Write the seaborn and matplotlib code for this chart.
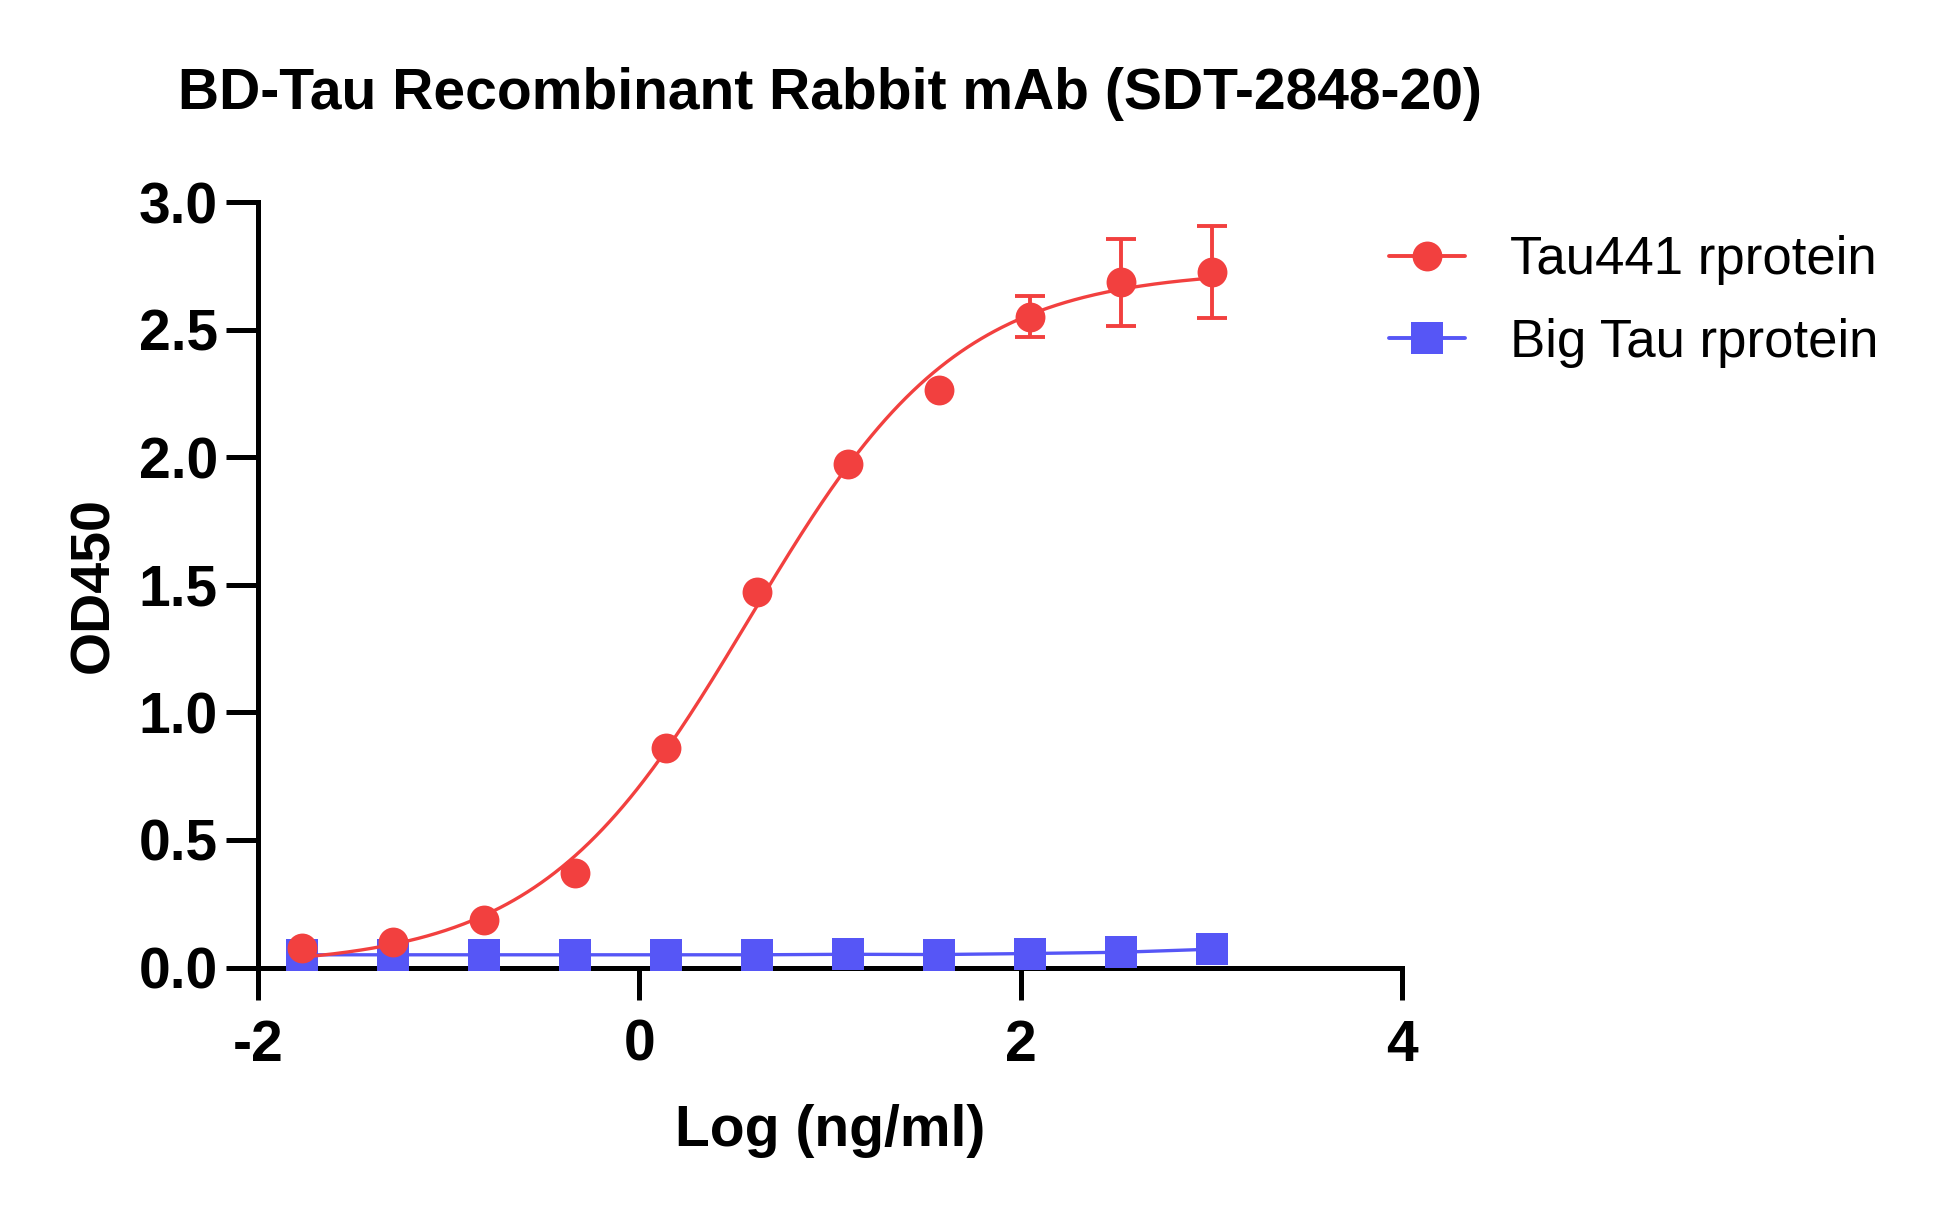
import numpy as np
import pandas as pd
import matplotlib
matplotlib.use("Agg")
import matplotlib.pyplot as plt
from matplotlib.lines import Line2D
import seaborn as sns

# ---------------- data ----------------
log_conc = [-1.771, -1.294, -0.817, -0.340, 0.137, 0.614, 1.091, 1.569, 2.046, 2.523, 3.000]
tau441_od = [0.078, 0.100, 0.185, 0.370, 0.862, 1.470, 1.975, 2.265, 2.550, 2.685, 2.725]
tau441_err = [0.0, 0.0, 0.0, 0.0, 0.0, 0.0, 0.0, 0.0, 0.080, 0.170, 0.180]
bigtau_od = [0.050, 0.050, 0.050, 0.050, 0.050, 0.050, 0.052, 0.051, 0.055, 0.060, 0.072]
series_names = ["Tau441 rprotein", "Big Tau rprotein"]
title_text = "BD-Tau Recombinant Rabbit mAb (SDT-2848-20)"
x_label = "Log (ng/ml)"
y_label = "OD450"
x_ticks = [-2, 0, 2, 4]
y_ticks = [0.0, 0.5, 1.0, 1.5, 2.0, 2.5, 3.0]

RED = "#F2403F"
BLUE = "#5656F6"


# ---------------- 4PL fit (least squares, numpy only) ----------------
def four_pl(x, p):
    bottom, top, logec50, hill = p
    return bottom + (top - bottom) / (1.0 + 10.0 ** ((logec50 - x) * hill))


def fit_four_pl(x, y):
    x = np.asarray(x, float)
    y = np.asarray(y, float)
    p = np.array([y.min(), y.max(), float(np.median(x)), 1.0])
    lam = 1e-2
    for _ in range(500):
        r = y - four_pl(x, p)
        J = np.empty((x.size, 4))
        for k in range(4):
            dp = np.zeros(4)
            dp[k] = 1e-6 * max(1.0, abs(p[k]))
            J[:, k] = (four_pl(x, p + dp) - four_pl(x, p - dp)) / (2 * dp[k])
        A = J.T @ J
        g = J.T @ r
        step = np.linalg.solve(A + lam * np.diag(np.diag(A) + 1e-12), g)
        p_new = p + step
        if np.sum((y - four_pl(x, p_new)) ** 2) < np.sum(r ** 2):
            p = p_new
            lam *= 0.3
        else:
            lam *= 10
    return p


params = fit_four_pl(log_conc, tau441_od)
x_fit = np.linspace(min(log_conc), max(log_conc), 400)
fit_df = pd.DataFrame({"x": x_fit, "y": four_pl(x_fit, params)})
pts_df = pd.DataFrame({"x": log_conc, "tau": tau441_od, "err": tau441_err, "big": bigtau_od})

# ---------------- style ----------------
sns.set_theme(style="ticks")
plt.rcParams["font.family"] = ["Liberation Sans", "DejaVu Sans"]
plt.rcParams["axes.unicode_minus"] = False
plt.rcParams["text.color"] = "black"
plt.rcParams["axes.labelcolor"] = "black"

fig = plt.figure(figsize=(19.46, 12.14), dpi=100)
ax = fig.add_axes([0.1326, 0.203, 0.588, 0.6306])

# Big Tau (blue) line + squares
sns.lineplot(data=pts_df, x="x", y="big", ax=ax, color=BLUE, linewidth=2.4,
             zorder=2, clip_on=False)
ax.plot(pts_df["x"], pts_df["big"], linestyle="none", marker="s", markersize=22.5,
        color=BLUE, markeredgewidth=0, zorder=3, clip_on=False)

# Tau441 (red) fitted curve, error bars and points
sns.lineplot(data=fit_df, x="x", y="y", ax=ax, color=RED, linewidth=2.4,
             zorder=4, clip_on=False)
err_mask = pts_df["err"] > 0
ax.errorbar(pts_df["x"][err_mask], pts_df["tau"][err_mask], yerr=pts_df["err"][err_mask],
            fmt="none", ecolor=RED, elinewidth=2.8, capsize=11, capthick=2.8,
            zorder=5, clip_on=False)
ax.plot(pts_df["x"], pts_df["tau"], linestyle="none", marker="o", markersize=21.5,
        color=RED, markeredgewidth=0, zorder=6, clip_on=False)

# axes
ax.set_xlim(-2, 4)
ax.set_ylim(0, 3)
ax.set_xticks(x_ticks)
ax.set_xticklabels([str(t) for t in x_ticks])
ax.set_yticks(y_ticks)
ax.set_yticklabels([f"{t:.1f}" for t in y_ticks])
for s in ["top", "right"]:
    ax.spines[s].set_visible(False)
for s in ["left", "bottom"]:
    ax.spines[s].set_linewidth(3.6)
    ax.spines[s].set_color("black")
ax.tick_params(axis="both", direction="out", length=23, width=3.6, color="black",
               labelsize=41, labelcolor="black")
ax.tick_params(axis="y", pad=6)
ax.tick_params(axis="x", pad=14)
for lab in ax.get_xticklabels() + ax.get_yticklabels():
    lab.set_fontweight("bold")

ax.set_xlabel(x_label, fontsize=41, fontweight="bold", labelpad=22, color="black")
ax.set_ylabel(y_label, fontsize=40, fontweight="bold", labelpad=13, color="black")
ax.set_title(title_text, fontsize=41, fontweight="bold", pad=67, color="black")

handles = [
    Line2D([0], [0], color=RED, linewidth=2.8, marker="o", markersize=21.5, markeredgewidth=0),
    Line2D([0], [0], color=BLUE, linewidth=2.8, marker="s", markersize=22.5, markeredgewidth=0),
]
leg = fig.legend(handles, series_names, loc="upper left", bbox_to_anchor=(0.7, 0.828),
                 frameon=False, fontsize=38, handlelength=1.45, handletextpad=0.85,
                 labelspacing=0.62, borderpad=0)
for t in leg.get_texts():
    t.set_color("black")

fig.savefig("out.png", dpi=100, facecolor="white")
